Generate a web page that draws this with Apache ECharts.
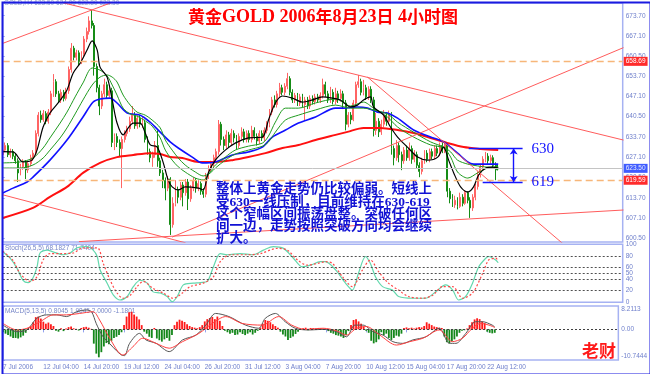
<!DOCTYPE html>
<html><head><meta charset="utf-8">
<script src="https://cdn.jsdelivr.net/npm/echarts@6/dist/echarts.min.js"></script>
<style>html,body{margin:0;padding:0;background:#fff}#c{width:650px;height:374px}</style>
</head><body><div id="c"></div>
<script>
// ---------- DATA ----------
const opens = [
628.0,629.5,631.0,628.0,629.0,627.5,626.0,622.0,624.0,625.5,
623.0,625.0,627.0,628.5,635.0,641.0,639.5,641.5,639.0,642.0,
648.0,652.0,648.0,646.0,648.5,646.5,649.0,656.0,663.0,660.0,
661.5,658.5,661.0,666.0,668.5,672.0,670.5,657.0,650.0,644.0,
648.0,651.0,647.5,649.0,632.0,634.0,632.0,630.0,633.0,635.0,
636.5,639.0,641.0,637.5,640.0,638.0,638.5,633.0,629.0,627.0,
628.0,631.0,626.0,622.0,619.5,617.0,620.0,605.0,612.0,616.5,
614.0,618.0,615.5,619.0,613.5,617.0,619.5,617.0,618.5,616.0,
615.0,621.0,623.5,625.0,627.0,629.0,638.0,633.0,631.0,634.5,
632.0,635.0,633.5,631.0,634.0,635.5,633.0,635.0,633.0,636.0,
634.0,632.5,635.0,633.5,636.0,638.0,642.0,646.0,644.5,648.0,
650.0,648.5,650.5,653.0,648.5,646.0,647.5,645.0,647.0,644.5,
646.0,644.0,646.5,645.5,647.0,646.0,647.5,651.0,648.0,646.0,
648.5,645.5,648.0,646.5,648.0,645.0,638.0,641.0,639.5,645.0,
651.0,652.0,648.5,650.0,647.0,649.5,646.0,636.0,639.0,635.5,
638.0,641.0,639.0,641.5,630.0,627.0,631.0,628.0,626.0,629.5,
627.0,630.0,626.5,628.0,624.5,622.5,626.0,628.5,626.5,629.0,
627.5,630.0,628.5,631.0,629.5,631.5,616.0,613.5,611.5,613.0,
611.0,614.0,612.0,615.5,613.0,610.5,614.0,617.5,621.5,624.0,
626.5,627.5,626.0,627.0,624.5,623.5];
const closes = [
629.5,631.0,628.0,629.0,627.5,626.0,622.0,624.0,625.5,623.0,
625.0,627.0,628.5,635.0,641.0,639.5,641.5,639.0,642.0,648.0,
652.0,648.0,646.0,648.5,646.5,649.0,656.0,663.0,660.0,661.5,
658.5,661.0,666.0,668.5,672.0,670.5,657.0,650.0,644.0,648.0,
651.0,647.5,649.0,632.0,634.0,632.0,630.0,633.0,635.0,636.5,
639.0,641.0,637.5,640.0,638.0,638.5,633.0,629.0,627.0,628.0,
631.0,626.0,622.0,619.5,617.0,620.0,605.0,612.0,616.5,614.0,
618.0,615.5,619.0,613.5,617.0,619.5,617.0,618.5,616.0,615.0,
621.0,623.5,625.0,627.0,629.0,638.0,633.0,631.0,634.5,632.0,
635.0,633.5,631.0,634.0,635.5,633.0,635.0,633.0,636.0,634.0,
632.5,635.0,633.5,636.0,638.0,642.0,646.0,644.5,648.0,650.0,
648.5,650.5,653.0,648.5,646.0,647.5,645.0,647.0,644.5,646.0,
644.0,646.5,645.5,647.0,646.0,647.5,651.0,648.0,646.0,648.5,
645.5,648.0,646.5,648.0,645.0,638.0,641.0,639.5,645.0,651.0,
652.0,648.5,650.0,647.0,649.5,646.0,636.0,639.0,635.5,638.0,
641.0,639.0,641.5,630.0,627.0,631.0,628.0,626.0,629.5,627.0,
630.0,626.5,628.0,624.5,622.5,626.0,628.5,626.5,629.0,627.5,
630.0,628.5,631.0,629.5,631.5,616.0,613.5,611.5,613.0,611.0,
614.0,612.0,615.5,613.0,610.5,614.0,617.5,621.5,624.0,626.5,
627.5,626.0,627.0,624.5,623.0,623.3];
const highs = [
630.5,632.0,631.8,630.0,629.8,628.5,626.8,625.0,626.5,626.2,
625.8,628.0,629.5,636.0,642.0,642.5,642.7,642.3,643.0,649.0,
654.5,652.8,649.0,649.5,649.3,650.0,657.0,664.7,663.8,662.5,
662.3,662.0,667.0,669.8,673.5,675.6,671.3,658.0,651.0,649.0,
653.0,652.0,650.5,650.0,635.0,635.0,633.0,634.0,636.0,637.5,
640.5,644.0,642.0,641.0,641.0,640.5,639.5,634.0,630.0,629.0,
632.5,636.0,627.0,623.0,620.5,621.0,620.6,614.0,619.6,617.5,
619.0,619.0,620.0,620.0,618.0,620.5,620.3,619.6,619.2,617.0,
622.0,624.5,626.0,628.0,630.0,639.4,638.8,634.0,636.0,635.5,
636.5,636.0,634.5,635.0,637.0,636.5,636.0,636.0,637.5,637.0,
635.0,636.0,636.0,637.0,639.0,643.0,647.0,647.5,649.0,651.6,
651.0,651.5,654.9,653.8,649.5,648.3,648.3,648.0,648.0,647.0,
647.0,647.5,647.5,648.0,648.0,648.5,653.0,652.0,649.0,650.3,
649.5,650.0,649.0,649.5,649.0,646.0,642.0,642.0,646.0,652.0,
654.2,653.0,652.6,651.0,650.5,650.5,647.0,641.7,640.0,639.5,
642.7,642.0,642.5,642.0,631.0,632.8,632.0,629.0,630.5,631.0,
632.0,631.0,629.5,629.0,625.5,627.0,629.5,629.5,630.0,630.0,
631.0,631.0,632.0,632.0,632.5,632.0,617.0,615.0,614.5,614.0,
615.5,615.0,616.4,616.0,614.0,615.0,618.5,622.5,625.0,627.5,
628.9,628.5,628.0,627.8,625.5,624.8];
const lows = [
627.2,628.8,627.2,627.0,626.5,625.0,619.0,621.2,623.0,620.0,
622.0,624.2,626.0,627.8,634.0,638.5,638.8,638.0,638.2,641.0,
647.0,647.0,645.0,645.0,645.5,645.8,648.0,655.0,659.0,659.0,
657.5,657.8,660.2,665.0,667.5,669.5,654.0,648.5,641.0,643.0,
647.0,646.5,646.8,630.5,629.5,630.5,627.5,617.0,632.0,634.0,
635.5,638.0,636.5,636.5,637.0,636.8,632.0,628.0,625.5,624.0,
627.0,624.0,621.0,617.0,613.0,616.0,601.6,604.0,611.0,612.0,
613.0,611.0,614.5,609.8,612.5,616.0,615.5,616.0,614.8,613.8,
614.0,620.0,622.5,624.0,626.0,628.0,631.0,629.5,630.0,630.5,
631.0,632.0,629.8,630.0,633.0,632.0,632.0,632.0,632.0,633.0,
631.0,631.5,632.5,632.5,635.0,637.0,641.0,643.5,643.5,647.0,
647.5,647.5,649.5,647.5,645.0,645.0,644.0,644.0,643.5,639.4,
643.0,643.0,644.5,644.5,645.0,645.0,646.5,647.0,645.0,645.0,
644.5,644.5,645.0,645.5,643.0,636.0,637.0,638.0,639.0,644.0,
650.0,647.5,647.5,646.0,646.0,645.0,634.0,634.5,633.8,634.5,
637.0,637.5,638.0,628.0,624.5,626.0,625.5,622.9,625.0,626.0,
626.0,625.0,625.5,623.5,620.6,621.5,625.0,625.5,625.5,626.5,
626.5,627.5,627.5,628.5,628.5,614.0,612.0,610.8,610.5,610.0,
610.5,611.0,611.5,612.0,607.2,609.5,613.0,616.5,620.5,623.0,
625.5,625.0,625.0,623.5,619.6,622.8];

// moving averages: [bar index, price]
const maBlack = [[0,629.0],[4.1,628.9],[8.0,625.6],[11.5,626.2],[13.5,629.5],[15.9,637.1],[18.6,641.7],[21.8,645.0],[25.3,649.3],[27.7,654.8],[30.5,658.1],[33.2,662.4],[35.2,665.4],[37.2,662.4],[38.3,656.8],[41.1,653.5],[43.1,646.0],[45.0,638.4],[47.4,634.5],[49.4,636.8],[51.4,638.4],[54.1,638.4],[56.1,635.1],[58.1,631.2],[60.8,630.5],[63.2,625.3],[65.1,619.7],[66.7,617.4],[69.1,616.4],[71.8,617.4],[77.0,617.0],[78.9,616.4],[80.9,622.0],[83.7,626.2],[87.6,629.5],[91.5,631.8],[96.7,633.5],[102.2,633.8],[104.6,639.4],[107.3,645.0],[110.1,647.3],[114.0,646.6],[117.9,645.3],[121.9,646.0],[125.8,647.0],[129.8,646.6],[132.9,646.0],[136.9,643.7],[139.6,644.3],[142.0,646.0],[144.8,647.0],[145.9,643.7],[149.9,641.0],[152.6,637.1],[155.4,633.8],[159.3,630.5],[163.3,627.2],[167.2,626.2],[171.2,627.2],[173.5,630.5],[175.5,626.2],[177.5,622.0],[180.2,617.4],[183.0,615.7],[185.3,617.4],[187.3,621.3],[190.1,623.6],[192.8,623.9],[195,623.6]];
const maGreenFast = [[0,625.3],[6.8,625.6],[11.9,626.9],[15.9,630.2],[18.6,633.5],[22.6,638.4],[25.3,642.0],[28.5,647.0],[31.6,651.6],[35.2,656.5],[38.3,655.8],[41.1,653.9],[43.1,650.9],[45.0,647.6],[47.4,643.3],[50.2,641.4],[52.9,640.7],[56.1,639.1],[58.8,637.4],[62.0,633.5],[64.0,629.5],[66.7,626.2],[69.1,624.0],[71.8,622.3],[75.8,620.3],[78.9,619.7],[81.7,622.3],[83.7,624.6],[87.6,627.2],[91.5,629.5],[96.7,630.8],[102.2,631.8],[104.6,634.1],[107.3,638.7],[111.3,643.3],[116.4,643.3],[123.1,645.0],[131.0,646.3],[136.9,644.0],[142.0,645.3],[145.9,643.3],[151.4,640.4],[155.4,637.1],[161.7,633.8],[168.4,631.2],[173.5,630.2],[176.3,627.2],[179.0,622.3],[183.0,620.3],[186.9,622.0],[190.9,623.6],[195,623.9]];
const maGreenSlow = [[0,623.6],[6.8,623.6],[11.9,624.6],[15.9,626.9],[18.6,629.5],[22.6,633.5],[25.3,636.8],[28.5,641.4],[31.6,646.0],[35.2,650.9],[38.3,653.5],[41.1,654.2],[43.1,653.5],[45.0,651.9],[47.4,647.6],[50.2,644.3],[52.9,642.0],[56.1,641.0],[58.8,639.4],[62.0,636.8],[64.0,632.8],[66.7,629.5],[69.1,626.9],[71.8,624.6],[75.8,622.3],[78.9,621.0],[81.7,622.0],[83.7,623.6],[87.6,626.2],[91.5,628.2],[96.7,629.5],[102.2,630.8],[104.6,632.2],[107.3,635.4],[111.3,639.4],[116.4,641.0],[123.1,642.7],[131.0,644.3],[136.9,643.3],[142.0,643.3],[145.9,642.7],[151.4,641.4],[155.4,638.7],[161.7,635.4],[168.4,632.2],[173.5,630.5],[176.3,628.9],[179.0,626.2],[183.0,624.9],[186.9,624.3],[190.9,623.9],[195,623.9]];
const maBlue = [[0,615.4],[4.1,617.0],[9.6,619.0],[11.9,620.6],[18.6,626.2],[25.3,632.8],[31.6,640.4],[35.6,645.3],[38.3,646.3],[42.3,646.6],[45.0,645.0],[49.0,641.7],[54.1,641.0],[58.0,638.7],[62.0,635.4],[65.9,632.2],[69.1,630.2],[74.6,627.2],[78.5,625.3],[83.7,625.6],[90.4,627.9],[96.7,628.9],[102.2,630.5],[106.1,633.8],[111.3,636.1],[116.4,638.4],[123.1,640.4],[131.0,643.3],[134.2,643.3],[139.6,643.7],[143.6,643.3],[147.5,642.0],[151.4,641.7],[155.4,640.0],[161.7,636.1],[168.4,633.8],[173.5,632.2],[179.0,628.5],[183.0,625.6],[185.3,624.9],[195,624.9]];
const maRed = [[0,607.2],[11.9,610.5],[18.6,614.1],[25.3,617.4],[31.6,622.0],[38.3,625.3],[45.0,627.2],[51.4,627.9],[58.0,628.5],[62.0,628.2],[65.9,627.2],[70.7,626.9],[77.0,625.6],[83.7,625.6],[90.4,626.2],[96.7,627.2],[103.4,628.5],[110.1,630.2],[116.4,631.2],[123.1,632.8],[131.0,634.5],[135.7,635.5],[142.0,636.8],[148.7,636.8],[155.4,636.1],[161.7,635.1],[168.4,633.5],[175.1,631.8],[181.4,630.5],[188.1,629.9],[195,629.5]];

// trend lines drawn on the chart: two [bar index, price] end points each
const trendLines = [
  [[0,664.6],[45,678.7]],
  [[24,677.9],[244.3,632.8]],
  [[0,614.8],[72,599.0]],
  [[30,599.4],[244.3,609.8]],
  [[66.7,600.9],[244.3,663.2]],
  [[143.6,653.5],[225,595.5]]
];
const levelDashed = [658.69, 619.59];
const lastPrice = 623.50;
const rangeTop = 630, rangeBottom = 619;
const rangeTopSpan = [183.4, 204.6], rangeBottomSpan = [188.9, 204.6], rangeArrowAt = 201.1;

// stochastic (26,5,5)
const stochMain = [[0,87],[2.9,76],[5.6,59],[8.0,38],[10.0,34],[11.9,42],[13.5,61],[14.7,85],[17.5,90],[19.8,87],[23.8,82],[26.5,85],[29.3,94],[33.2,96],[35.6,90],[37.2,79],[38.3,56],[41.1,33],[43.5,13],[46.2,4],[49.0,10],[51.4,27],[54.1,38],[56.9,33],[59.2,18],[62.0,16],[64.7,10],[66.7,1],[68.7,10],[71.1,30],[75.0,33],[77.8,34],[80.5,36],[82.9,61],[85.6,84],[88.4,82],[93.5,84],[98.6,82],[102.6,90],[106.5,96],[110.5,93],[114.4,76],[117.9,61],[121.1,64],[125.0,70],[127.0,70],[131.0,56],[134.9,33],[137.6,21],[140.0,50],[142.8,79],[144.7,67],[146.7,44],[149.5,27],[153.4,21],[155.8,10],[161.3,7],[166.4,7],[170.4,18],[174.3,30],[177.1,21],[179.4,4],[182.2,10],[184.9,33],[187.3,61],[190.1,76],[191.3,79],[194.0,73],[195,68.2]];
const stochSignal = [[0,88],[4.1,72],[6.8,50],[10.8,36],[13.5,44],[15.9,73],[18.6,84],[22.6,84],[27.7,85],[31.6,94],[37.2,94],[39.5,68],[42.3,38],[45.0,16],[47.4,7],[50.2,12],[52.9,27],[55.3,36],[59.2,24],[63.2,16],[67.1,7],[70.7,16],[73.8,27],[78.9,33],[82.9,44],[85.6,70],[89.6,82],[96.3,82],[101.4,84],[108.1,93],[112.0,90],[116.0,73],[119.9,64],[123.9,67],[127.0,70],[129.8,67],[133.7,44],[137.6,27],[141.6,56],[144.7,73],[147.9,53],[151.8,33],[155.8,21],[159.7,10],[165.2,7],[169.2,12],[173.1,27],[177.1,27],[181.0,7],[184.9,16],[188.9,50],[191.3,73],[194.0,76],[195,71.7]];
const stochLevels = [20, 40, 50, 60, 80];
const stochTicks = [0, 20, 40, 50, 60, 80, 100];

// MACD (5,13,5)
const macdHist = [
-1.0,-1.5,-2.0,-2.5,-3.0,-3.0,-3.2,-2.8,-2.2,-1.2,
0.5,1.0,2.5,4.3,4.5,3.8,2.7,2.0,2.4,1.8,
1.2,-0.5,-0.8,0.4,-0.6,0.3,0.8,1.0,0.4,0.2,
-0.4,0.5,0.8,0.9,0.6,0.2,-5.0,-8.5,-9.8,-8.0,
-6.0,-4.8,-5.2,-4.0,-3.0,-2.6,-2.0,-1.0,1.5,4.5,
6.0,6.2,5.2,4.5,3.5,1.5,-0.8,-1.5,-2.6,-3.0,
0.5,-3.2,-3.8,-4.3,-3.5,-3.0,-4.0,-2.0,1.5,2.7,
3.4,3.0,2.6,1.8,1.2,0.8,0.6,0.4,0.8,1.5,
2.8,3.6,4.0,4.4,3.6,4.5,3.0,1.2,-0.5,-1.0,
-1.5,-1.2,-2.0,-1.8,-1.0,-1.6,-2.0,-1.5,-1.0,-1.8,
-1.2,-0.5,0.6,2.0,3.3,3.0,2.5,1.8,1.2,0.6,
-0.8,-1.8,-2.5,-3.7,-3.0,-2.5,-1.6,-0.8,0.2,0.4,
0.6,-0.3,0.5,0.4,0.3,0.5,0.4,0.3,0.2,-0.6,
-1.2,-1.5,-2.0,-2.2,-2.5,-3.0,-2.0,-0.6,1.5,3.3,
3.6,2.8,2.0,1.0,-0.5,-1.2,-4.0,-4.9,-4.5,-3.5,
-1.0,-2.0,-1.5,-3.0,-3.7,-3.0,-2.2,-2.5,-1.5,0.5,
0.7,0.4,0.6,0.3,0.6,0.8,0.7,1.2,2.5,2.0,
1.5,1.0,0.8,0.6,0.5,-2.5,-4.5,-4.9,-4.2,-3.5,
-2.5,-1.2,-0.5,-0.3,0.3,1.5,2.5,3.5,3.9,3.6,
2.8,2.2,-0.8,-1.2,-1.4,-1.2];
const macdLine = [[0,1.5],[5.5,-0.8],[9.5,-0.2],[13.4,3.9],[17.3,5.1],[21.3,5.1],[25.2,4.5],[29.2,6.2],[33.1,6.8],[35.1,6.2],[37.0,2.0],[39.6,-2.5],[42.3,-5.0],[45.0,-7.5],[47.0,-9.0],[48.2,-9.2],[50.2,-4.9],[54.1,-1.4],[56.7,-3.7],[60.7,-4.9],[65.9,-7.8],[71.2,-3.7],[76.5,-2.0],[80.4,1.5],[84.3,5.6],[89.6,4.5],[96.2,1.5],[101.4,0.4],[104.0,3.9],[108.0,5.6],[111.9,2.7],[115.9,0.4],[121.1,-0.2],[127.0,0.0],[132.3,-0.8],[136.2,-2.6],[139.5,1.5],[142.8,1.5],[146.7,-0.8],[150.7,-2.0],[154.6,-4.3],[158.5,-4.9],[162.5,-3.7],[167.7,-2.6],[173.0,0.4],[177.0,-4.9],[179.6,-4.9],[183.5,-1.4],[187.4,2.7],[190.1,2.7],[194.0,1.5],[195,0.8]];
const macdSignal = [[0,2.1],[5.5,-0.2],[9.5,0.4],[14.7,2.7],[20.0,5.1],[25.2,5.1],[30.4,5.6],[35.7,6.2],[38.3,3.3],[42.3,-3.1],[47.5,-9.0],[51.5,-6.1],[55.4,-3.1],[60.7,-4.9],[65.9,-6.6],[71.2,-4.3],[77.7,-1.4],[83.0,2.1],[88.3,4.5],[94.8,2.1],[102.7,1.5],[109.3,4.5],[114.5,1.5],[119.8,0.0],[127.0,0.4],[132.3,-0.5],[136.2,-2.0],[140.2,0.4],[144.1,1.0],[149.4,-2.0],[156.0,-5.5],[161.3,-4.3],[166.5,-3.1],[173.0,-0.2],[178.2,-4.3],[182.2,-3.1],[186.1,0.4],[189.4,2.1],[192.7,1.5],[195,0.7]];
const macdTicks = [-10.7444, 0, 8.2113];

// axis tick labels
const priceTicks = [600.5,607.1,613.7,620.5,627.1,633.7,640.5,647.1,653.7,660.5,667.1,673.7];
const timeLabelIdx = [0,16,32,48,64,80,96,112,128,144,160,176,192];
const timeLabels = ['7 Jul 2006','12 Jul 04:00','14 Jul 20:00','19 Jul 12:00','24 Jul 04:00','26 Jul 20:00','31 Jul 12:00','3 Aug 04:00','7 Aug 20:00','10 Aug 12:00','15 Aug 04:00','17 Aug 20:00','22 Aug 12:00'];

const noteLines = ['整体上黄金走势仍比较偏弱。短线上','受630一线压制，目前维持在630-619','这个窄幅区间振荡盘整。突破任何区','间一边，走势按照突破方向均会继续','扩大。'];
const infoText = 'GOLD,H4 623.50 624.00 622.80 623.30';
const stochText = 'Stoch(26,5,5) 68.1827 71.7404';
const macdText = 'MACD(5,13,5) 0.8045 1.9845 2.0000 -1.1801';

// ---------- CHART ----------
const SLOTS = 245;
const cats = Array.from({length: SLOTS}, (_, i) => String(i));
const candleData = opens.map((o, i) => [o, closes[i], lows[i], highs[i]]);
const labelMap = {};
timeLabelIdx.forEach((k, j) => { labelMap[k] = timeLabels[j]; });

const AX = '#93a2ee', LBL = '#7080cc', SANS = 'Liberation Sans';
const gridCommon = {left: 2.7, right: 27.3, show: true, borderColor: '#a6b2f2', borderWidth: 1.5, containLabel: false};
const hiddenCat = g => ({type: 'category', gridIndex: g, data: cats, boundaryGap: false, show: false});
const hiddenVal = g => ({type: 'value', gridIndex: g, min: 0, max: SLOTS - 1, show: false});
const yStyle = {
  position: 'right',
  axisLine: {show: true, lineStyle: {color: AX, width: 1}},
  splitLine: {show: false}
};

const mkLine = (data, color, width, extra) => Object.assign({
  type: 'line', xAxisIndex: 1, yAxisIndex: 0, data, showSymbol: false, symbol: 'none',
  smooth: 0.3, silent: true, lineStyle: {color, width}
}, extra || {});

const series = [];
series.push({
  type: 'candlestick', xAxisIndex: 0, yAxisIndex: 0, data: candleData, barWidth: 1.4,
  itemStyle: {color: '#ff6464', color0: '#168c16', borderColor: '#ff6464', borderColor0: '#168c16', borderWidth: 1},
  silent: true,
  markLine: {
    silent: true, symbol: 'none', animation: false,
    data: [
      {yAxis: levelDashed[0], lineStyle: {color: '#f7b679', width: 1.3, type: [7, 4]},
        label: {show: true, position: 'end', formatter: levelDashed[0].toFixed(2), backgroundColor: '#ff2b2b', color: '#fff', fontSize: 6.5, fontFamily: SANS, padding: [1, 2], distance: 1}},
      {yAxis: lastPrice, lineStyle: {color: '#c4c4c4', width: 1, type: 'solid'},
        label: {show: true, position: 'end', formatter: lastPrice.toFixed(2), backgroundColor: '#3f5cff', color: '#e8ecff', fontSize: 6.5, fontFamily: SANS, padding: [1, 2], distance: 1}},
      {yAxis: levelDashed[1], lineStyle: {color: '#f7b679', width: 1.3, type: [7, 4]},
        label: {show: true, position: 'end', formatter: levelDashed[1].toFixed(2), backgroundColor: '#ff2b2b', color: '#fff', fontSize: 6.5, fontFamily: SANS, padding: [1, 2], distance: 1}}
    ]
  }
});
series.push(mkLine(maRed, '#ff1010', 2));
series.push(mkLine(maBlue, '#1010ff', 1.6));
series.push(mkLine(maGreenSlow, '#1f9a1f', 1));
series.push(mkLine(maGreenFast, '#1f9a1f', 1));
series.push(mkLine(maBlack, '#000000', 1.2));
trendLines.forEach(t => series.push(mkLine(t, '#ff5c5c', 1, {smooth: false})));
// 630 / 619 range annotation
series.push({
  type: 'line', xAxisIndex: 1, yAxisIndex: 0, data: [], silent: true,
  markLine: {
    silent: true, symbol: 'none', animation: false,
    lineStyle: {color: '#1414ff', width: 1.4, type: 'solid'},
    data: [
      [{coord: [rangeTopSpan[0], rangeTop]}, {coord: [rangeTopSpan[1], rangeTop],
        label: {show: true, position: 'end', formatter: String(rangeTop), color: '#1414ff', fontSize: 15, fontFamily: 'Liberation Serif', distance: 9}}],
      [{coord: [rangeBottomSpan[0], rangeBottom]}, {coord: [rangeBottomSpan[1], rangeBottom],
        label: {show: true, position: 'end', formatter: String(rangeBottom), color: '#1414ff', fontSize: 15, fontFamily: 'Liberation Serif', distance: 9}}],
      [{coord: [rangeArrowAt, rangeTop], symbol: 'arrow', symbolSize: 6}, {coord: [rangeArrowAt, rangeBottom], symbol: 'arrow', symbolSize: 6, label: {show: false}}]
    ],
    label: {show: false}
  }
});
// stochastic
series.push({
  type: 'line', xAxisIndex: 2, yAxisIndex: 1, data: stochMain, showSymbol: false, symbol: 'none', smooth: 0.3, silent: true,
  lineStyle: {color: '#63d8ad', width: 1.2},
  markLine: {silent: true, symbol: 'none', animation: false, label: {show: false},
    lineStyle: {color: '#505050', width: 1, type: [2, 2]},
    data: stochLevels.map(v => ({yAxis: v}))}
});
series.push({
  type: 'line', xAxisIndex: 2, yAxisIndex: 1, data: stochSignal, showSymbol: false, symbol: 'none', smooth: 0.3, silent: true,
  lineStyle: {color: '#ff4a4a', width: 1.2, type: [2, 2]}
});
// MACD
series.push({
  type: 'bar', xAxisIndex: 3, yAxisIndex: 2, data: macdHist, barWidth: 1.8, silent: true,
  itemStyle: {color: p => p.value >= 0 ? '#ff1a1a' : '#14871a'},
  markLine: {silent: true, symbol: 'none', animation: false, label: {show: false},
    lineStyle: {color: '#404040', width: 1, type: [2, 2]}, data: [{yAxis: 0}]}
});
series.push({
  type: 'line', xAxisIndex: 4, yAxisIndex: 2, data: macdLine, showSymbol: false, symbol: 'none', smooth: 0.3, silent: true,
  lineStyle: {color: '#555555', width: 1}
});
series.push({
  type: 'line', xAxisIndex: 4, yAxisIndex: 2, data: macdSignal, showSymbol: false, symbol: 'none', smooth: 0.3, silent: true,
  lineStyle: {color: '#ff4040', width: 1}
});

const option = {
  animation: false,
  backgroundColor: '#ffffff',
  textStyle: {fontFamily: SANS},
  title: {
    text: '{c|黄金}{l|GOLD 2006}{c|年}{l|8}{c|月}{l|23}{c|日}{l| 4}{c|小时图}',
    left: 183, top: 3,
    textStyle: {rich: {
      c: {fontFamily: 'Noto Sans CJK SC', fontWeight: 'bold', fontSize: 17, color: '#ff0000'},
      l: {fontFamily: 'Liberation Serif', fontSize: 18, color: '#ff0000'}
    }}
  },
  grid: [
    Object.assign({top: 3, height: 239}, gridCommon),
    Object.assign({top: 244.3, height: 58}, gridCommon),
    Object.assign({top: 306, height: 54}, gridCommon)
  ],
  xAxis: [
    hiddenCat(0), hiddenVal(0), hiddenVal(1),
    {type: 'category', gridIndex: 2, data: cats, boundaryGap: false,
      axisLine: {show: false},
      axisTick: {show: true, length: 3, interval: i => labelMap[i] !== undefined, lineStyle: {color: AX}},
      axisLabel: {show: true, interval: i => labelMap[i] !== undefined, formatter: (v, i) => labelMap[i] || '',
        align: 'left', fontSize: 6.5, color: LBL, margin: 4, fontFamily: SANS}},
    hiddenVal(2)
  ],
  yAxis: [
    Object.assign({type: 'value', gridIndex: 0, min: 599.28, max: 677.88,
      axisTick: {show: true, length: 2, customValues: priceTicks, lineStyle: {color: AX}},
      axisLabel: {customValues: priceTicks, formatter: v => v.toFixed(2), fontSize: 6.5, color: LBL, margin: 3, fontFamily: SANS}}, yStyle),
    Object.assign({type: 'value', gridIndex: 1, min: 0, max: 100,
      axisTick: {show: true, length: 2, customValues: stochTicks, lineStyle: {color: AX}},
      axisLabel: {customValues: stochTicks, fontSize: 6.5, color: LBL, margin: 3, fontFamily: SANS}}, yStyle),
    Object.assign({type: 'value', gridIndex: 2, min: macdTicks[0], max: macdTicks[2],
      axisTick: {show: true, length: 2, customValues: macdTicks, lineStyle: {color: AX}},
      axisLabel: {customValues: macdTicks, formatter: v => v === 0 ? '0.00' : v.toFixed(4), fontSize: 6.5, color: LBL, margin: 3, fontFamily: SANS,
        verticalAlignMaxLabel: 'top', verticalAlignMinLabel: 'bottom'}}, yStyle)
  ],
  series,
  graphic: [
    {type: 'text', left: 4, top: 0, silent: true, style: {text: infoText, fontSize: 6.5, fontFamily: SANS, fill: '#8e9ccc'}},
    {type: 'text', left: 5, top: 245, silent: true, style: {text: stochText, fontSize: 6.5, fontFamily: SANS, fill: '#7686c8'}},
    {type: 'text', left: 5, top: 307.5, silent: true, style: {text: macdText, fontSize: 6.5, fontFamily: SANS, fill: '#7686c8'}},
    {type: 'text', left: 216, top: 183, silent: true, z: 100,
      style: {text: noteLines.join('\n'), fontSize: 13.5, fontWeight: 'bold', lineHeight: 12.3, fontFamily: '"Liberation Serif", "Noto Sans CJK SC"', fill: '#1212d4'}},
    {type: 'text', left: 582, top: 342, silent: true, style: {text: '老财', fontSize: 17, fontWeight: 'bold', fontFamily: 'Noto Sans CJK SC', fill: '#ff1a1a'}},
    {type: 'rect', left: 0, top: 0, silent: true, z: 200,
      shape: {x: 1, y: 1, width: 648, height: 372}, style: {fill: 'none', stroke: '#1a1ae0', lineWidth: 2}}
  ]
};
const chart = echarts.init(document.getElementById('c'), null, {renderer: 'canvas', width: 650, height: 374});
chart.setOption(option);
</script></body></html>
